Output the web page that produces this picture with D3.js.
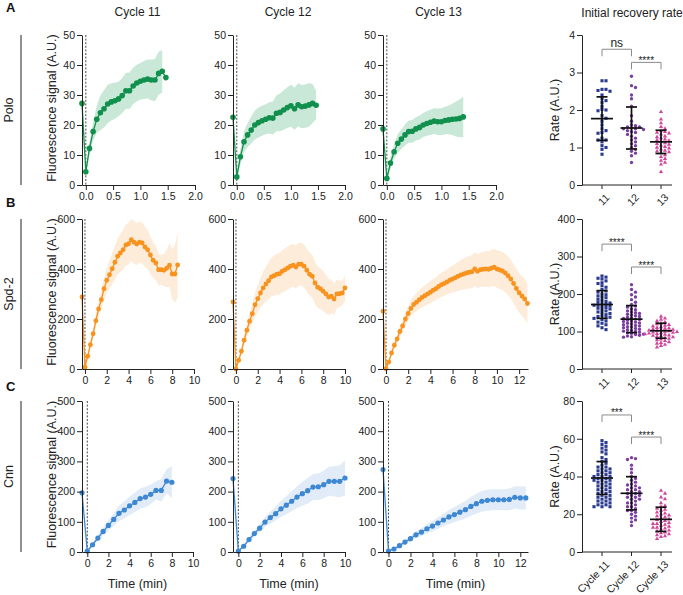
<!DOCTYPE html>
<html><head><meta charset="utf-8">
<script src="https://cdn.jsdelivr.net/npm/d3@7"></script>
<style>
body{margin:0;background:#fff;}
svg{font-family:"Liberation Sans",Arial,Helvetica,sans-serif;display:block;}
</style></head><body>
<svg id="c" width="683" height="595"></svg>
<script>
// ---------------- DATA ----------------
const cycles = ["Cycle 11", "Cycle 12", "Cycle 13"];
const proteins = ["Polo", "Spd-2", "Cnn"];
const rowLetters = ["A", "B", "C"];

// sampling intervals (min)
const poloInterval = 4 / 60, spd2Interval = 0.25, cnnInterval = 0.5;

// Polo (A)
const polo11Pre = 27.2;
const polo11 = [4.4, 12.2, 17.8, 21.9, 24.1, 25.4, 27.0, 27.7, 28.1, 28.7, 29.8, 31.4, 31.4, 33.0, 34.0, 34.6, 35.0, 35.3, 35.0, 35.0, 37.2, 37.9, 35.8];
const polo11Sd = [1, 2, 3, 4.5, 5.8, 6.2, 6.4, 6.2, 6, 5.8, 5.8, 6, 6.1, 6.1, 6.1, 6.1, 6.3, 6.5, 6.8, 7, 7.2, 7, null];
const polo12Pre = 22.6;
const polo12 = [2.7, 9.4, 14.4, 16.7, 18.3, 20.0, 20.8, 21.4, 21.9, 22.4, 22.3, 23.9, 24.2, 25.0, 25.8, 26.4, 25.4, 26.7, 26.1, 26.3, 26.7, 27.2, 26.6];
const polo12Sd = [1, 2.5, 3.5, 4, 4.5, 4.8, 5, 5, 5, 5.2, 5.5, 6, 6.3, 6.6, 6.8, 7, 7, 7.2, 7.2, 7.2, 7.3, 6.5, 4.7];
const polo13Pre = 18.7;
const polo13 = [2.2, 7.3, 11.1, 13.9, 15.3, 16.7, 17.8, 17.9, 18.7, 19.2, 20.0, 20.5, 20.9, 21.3, 21.1, 21.1, 21.5, 21.7, 21.9, 22.0, 22.2, 22.7];
const polo13Sd = [1, 2, 2.5, 3, 3.3, 3.5, 3.7, 3.8, 3.9, 4, 4, 4.1, 4.2, 4.3, 4.4, 4.5, 4.6, 4.8, 5.2, 5.8, 6.3, 6.8];

// Spd-2 (B)
const spd11Pre = 288;
const spd11 = [7, 51, 97, 141, 193, 240, 277, 321, 355, 377, 401, 427, 451, 464, 477, 496, 501, 517, 507, 500, 507, 504, 488, 477, 456, 435, 424, 397, 397, 395, 403, 415, 380, 380, 416];
const spd11Sd = [3, 8, 14, 20, 26, 32, 38, 44, 50, 56, 62, 68, 72, 76, 80, 82, 84, 85, 85, 84, 83, 82, 80, 78, 74, 72, 68, 63, 60, 65, 75, 88, 100, 115, 130];
const spd12Pre = 268;
const spd12 = [0, 35, 71, 115, 155, 191, 221, 257, 281, 304, 324, 340, 353, 368, 373, 379, 381, 391, 397, 404, 411, 415, 408, 419, 419, 411, 395, 379, 371, 344, 327, 321, 311, 300, 288, 291, 280, 300, 301, 304, 324];
const spd12Sd = [3, 8, 14, 20, 27, 33, 40, 47, 54, 60, 66, 70, 74, 77, 80, 82, 84, 85, 86, 86, 86, 86, 86, 86, 86, 86, 86, 86, 85, 84, 83, 82, 80, 77, 72, 67, 62, 57, 52, 50, 50];
const spd13Pre = 231;
const spd13 = [1, 28, 64, 95, 120, 150, 172, 200, 222, 242, 258, 267, 277, 286, 293, 300, 307, 315, 321, 330, 337, 342, 348, 355, 360, 365, 371, 376, 380, 384, 387, 389, 400, 391, 397, 399, 400, 399, 403, 407, 400, 396, 392, 384, 373, 360, 342, 322, 305, 292, 280, 262];
const spd13Sd = [2, 6, 10, 14, 18, 21, 24, 27, 30, 32, 34, 36, 38, 40, 42, 43, 44, 45, 46, 47, 48, 49, 50, 52, 54, 56, 58, 60, 62, 64, 65, 66, 67, 68, 69, 70, 71, 72, 73, 74, 75, 76, 76, 77, 77, 78, 78, 79, 79, 80, 80, 80];

// Cnn (C)
const cnn11Pre = 196;
const cnn11 = [3, 24, 46, 68, 88, 108, 128, 139, 153, 164, 177, 182, 191, 204, 204, 235, 231];
const cnn11Sd = [2, 5, 9, 13, 17, 21, 25, 28, 30, 32, 33, 34, 32, 30, 38, 40, 53];
const cnn12Pre = 243;
const cnn12 = [3, 19, 41, 61, 79, 99, 114, 127, 143, 155, 168, 182, 193, 203, 215, 216, 223, 234, 234, 234, 245];
const cnn12Sd = [2, 4, 7, 10, 13, 16, 20, 23, 27, 30, 33, 36, 40, 42, 43, 44, 46, 48, 50, 53, 58];
const cnn13Pre = 273;
const cnn13 = [3, 10, 21, 33, 44, 57, 66, 77, 86, 96, 106, 116, 124, 132, 140, 151, 160, 168, 171, 173, 173, 173, 174, 181, 179, 179];
const cnn13Sd = [2, 3, 5, 7, 9, 11, 13, 15, 17, 19, 21, 23, 25, 27, 29, 31, 33, 34, 35, 35, 35, 35, 36, 37, 38, 38];

// Initial recovery rates (scatter)
const rateA11 = [2.78, 2.78, 2.55, 2.55, 2.52, 2.5, 2.4, 2.3, 2.25, 2.2, 2.1, 2.02, 2.0, 1.98, 1.85, 1.78, 1.7, 1.6, 1.5, 1.45, 1.4, 1.38, 1.25, 1.2, 1.2, 1.15, 1.05, 1.0, 0.95, 0.82];
const rateA12 = [2.9, 2.65, 2.6, 2.4, 2.3, 2.1, 1.85, 1.7, 1.6, 1.58, 1.55, 1.55, 1.52, 1.5, 1.5, 1.48, 1.45, 1.42, 1.4, 1.35, 1.3, 1.25, 1.2, 1.15, 1.1, 1.05, 1.0, 0.95, 0.9, 0.85, 0.78, 0.6];
const rateA13 = [1.95, 1.75, 1.65, 1.55, 1.5, 1.45, 1.42, 1.4, 1.38, 1.35, 1.3, 1.28, 1.25, 1.22, 1.2, 1.18, 1.15, 1.12, 1.1, 1.08, 1.05, 1.02, 1.0, 0.98, 0.95, 0.92, 0.9, 0.88, 0.85, 0.8, 0.75, 0.7, 0.65, 0.6, 0.55, 0.35];
const rateB11 = [248, 245, 242, 240, 235, 230, 228, 222, 218, 212, 208, 205, 200, 198, 195, 192, 190, 186, 183, 180, 178, 176, 174, 172, 170, 170, 168, 166, 164, 162, 160, 158, 155, 152, 150, 148, 145, 142, 140, 138, 137, 135, 132, 128, 125, 122, 118, 115, 110, 105];
const rateB12 = [225, 212, 205, 198, 192, 185, 178, 172, 168, 165, 160, 158, 155, 152, 150, 148, 146, 144, 142, 140, 138, 136, 135, 133, 132, 130, 128, 127, 125, 123, 122, 120, 118, 116, 115, 113, 112, 110, 108, 106, 105, 103, 101, 100, 98, 97, 95, 93, 92, 90, 88, 86, 85];
const rateB13 = [140, 135, 132, 128, 125, 122, 120, 118, 116, 114, 112, 110, 109, 108, 106, 105, 104, 103, 102, 101, 100, 99, 98, 97, 96, 95, 94, 93, 92, 90, 89, 88, 86, 85, 83, 81, 79, 77, 75, 72, 70, 68, 65, 62, 58];
const rateC11 = [59, 58, 57, 56, 55, 54, 53, 52, 50, 49, 48, 47, 46, 45, 45, 44, 44, 43, 43, 42, 42, 41, 41, 40, 40, 40, 39, 39, 38, 38, 38, 37, 37, 36, 36, 35, 35, 34, 34, 33, 33, 32, 32, 31, 31, 30, 30, 29, 29, 28, 28, 27, 27, 26, 26, 25, 25, 24, 24, 24];
const rateC12 = [50, 49.5, 49, 46, 44, 42, 40, 39, 38, 37, 36, 35.5, 35, 34, 34, 33, 33, 32, 32, 31, 31, 30, 30, 29, 29, 28, 28, 27, 26, 26, 25, 24, 24, 23, 22, 22, 21, 20, 19, 18, 17, 16, 14];
const rateC13 = [32.5, 31, 29, 28, 26, 24.5, 24, 23, 22.5, 22, 21, 20.5, 20, 19.5, 19, 18.5, 18, 17.5, 17, 16.5, 16, 15.5, 15, 15, 14.5, 14, 13.5, 13, 13, 12.5, 12, 11.5, 11, 10.5, 10, 9.5, 9, 8.5, 8, 7];
const rateMeanA = [1.77, 1.52, 1.15], rateSdA = [0.58, 0.56, 0.31];
const rateMeanB = [172, 133, 102], rateSdB = [37, 36, 20];
const rateMeanC = [39.2, 31.1, 17.3], rateSdC = [8.7, 8.8, 6.4];
const rateGroupsShort = ["11", "12", "13"];

// significance brackets
const sigPairs = [[0, 1], [1, 2]];
const sigLabelsA = ["ns", "****"], sigLevelsA = [3.62, 3.27];
const sigLabelsB = ["****", "****"], sigLevelsB = [333, 272];
const sigLabelsC = ["***", "****"], sigLevelsC = [72.6, 60.9];

// axis ticks
const yTicksA = [0, 10, 20, 30, 40, 50], yTicksB = [0, 200, 400, 600], yTicksC = [0, 100, 200, 300, 400, 500];
const rateTicksA = [0, 1, 2, 3, 4], rateTicksB = [0, 100, 200, 300, 400], rateTicksC = [0, 20, 40, 60, 80];
const xTicksA = [0, 0.5, 1, 1.5, 2], xTicksB = [0, 2, 4, 6, 8, 10], xTicksB13 = [0, 2, 4, 6, 8, 10, 12];

// ---------------- LAYOUT / STYLE ----------------
const svg = d3.select("#c");
const AX = "#222";
const rowBox = [{top: 35, bottom: 185}, {top: 219, bottom: 369}, {top: 401, bottom: 552}];
const letterY = [12, 207, 391];
const chartX = [[82, 195], [233, 345], [383, 496]];
const rowStyles = [
  {color: "#10904c", band: "#c9e8d7", r: 2.8, yDomain: [0, 50], yTicks: yTicksA, interval: poloInterval, xStart: -0.07,
   xEnds: [2, 2, 2], xTicks: [xTicksA, xTicksA, xTicksA], xFmt: d3.format(".1f"), xr: [[82,195],[233,345],[383,496]]},
  {color: "#f7931e", band: "#fdecda", r: 2.4, yDomain: [0, 600], yTicks: yTicksB, interval: spd2Interval, xStart: -0.27,
   xEnds: [10, 10, 12.8], xTicks: [xTicksB, xTicksB, xTicksB13], xFmt: d3.format("d"), xr: [[82,194],[233,345],[383,528]]},
  {color: "#3d87d3", band: "#e1ecf8", r: 2.6, yDomain: [0, 500], yTicks: yTicksC, interval: cnnInterval, xStart: -0.5,
   xEnds: [10, 10, 12.7], xTicks: [xTicksB, xTicksB, xTicksB13], xFmt: d3.format("d"), xr: [[82,193],[233,345],[383,528]]}
];
const seriesData = [
  [[polo11Pre, polo11, polo11Sd], [polo12Pre, polo12, polo12Sd], [polo13Pre, polo13, polo13Sd]],
  [[spd11Pre, spd11, spd11Sd], [spd12Pre, spd12, spd12Sd], [spd13Pre, spd13, spd13Sd]],
  [[cnn11Pre, cnn11, cnn11Sd], [cnn12Pre, cnn12, cnn12Sd], [cnn13Pre, cnn13, cnn13Sd]]
];
const scatterRows = [
  {groups: [rateA11, rateA12, rateA13], mean: rateMeanA, sd: rateSdA, ticks: rateTicksA, dom: [0, 4], sigL: sigLabelsA, sigY: sigLevelsA, labels: rateGroupsShort},
  {groups: [rateB11, rateB12, rateB13], mean: rateMeanB, sd: rateSdB, ticks: rateTicksB, dom: [0, 400], sigL: sigLabelsB, sigY: sigLevelsB, labels: rateGroupsShort},
  {groups: [rateC11, rateC12, rateC13], mean: rateMeanC, sd: rateSdC, ticks: rateTicksC, dom: [0, 80], sigL: sigLabelsC, sigY: sigLevelsC, labels: cycles}
];
const groupColors = ["#2a3a8f", "#7a3e9e", "#d2469c"];

function styleAxis(g) {
  g.select(".domain").attr("stroke", AX).attr("stroke-width", 1);
  g.selectAll(".tick line").attr("stroke", AX).attr("stroke-width", 1);
  g.selectAll(".tick text").attr("fill", "#222").attr("font-size", 10.5);
}

// titles
cycles.forEach((c, i) => {
  svg.append("text").attr("x", (chartX[i][0] + chartX[i][1]) / 2 - 1).attr("y", 16)
    .attr("text-anchor", "middle").attr("font-size", 12).attr("fill", "#222").text(c);
});
svg.append("text").attr("x", 632).attr("y", 17).attr("text-anchor", "middle")
  .attr("font-size", 12).attr("fill", "#222").text("Initial recovery rate");

rowBox.forEach((rb, ri) => {
  const st = rowStyles[ri];
  svg.append("text").attr("x", 6).attr("y", letterY[ri]).attr("font-size", 13).attr("font-weight", "bold")
    .attr("fill", "#111").text(rowLetters[ri]);
  svg.append("line").attr("x1", 21).attr("x2", 21).attr("y1", rb.top).attr("y2", rb.bottom).attr("stroke", AX).attr("stroke-width", 1);
  svg.append("text").attr("transform", `translate(12.5,${(rb.top + rb.bottom) / 2}) rotate(-90)`)
    .attr("text-anchor", "middle").attr("font-size", 12.5).attr("fill", "#222").text(proteins[ri]);
  svg.append("text").attr("transform", `translate(56,${(rb.top + rb.bottom) / 2 - 2}) rotate(-90)`)
    .attr("text-anchor", "middle").attr("font-size", 12.5).attr("fill", "#222").text("Fluorescence signal (A.U.)");

  const y = d3.scaleLinear().domain(st.yDomain).range([rb.bottom, rb.top]);

  seriesData[ri].forEach((sd, ci) => {
    const [pre, vals, sds] = sd;
    const [x0, x1] = st.xr[ci];
    const x = d3.scaleLinear().domain([st.xStart, st.xEnds[ci]]).range([x0, x1]);
    const g = svg.append("g");
    const pts = vals.map((v, i) => ({t: i * st.interval, v, s: sds[i]}));
    g.append("path").datum(pts).attr("fill", st.band).attr("stroke", "none")
      .attr("d", d3.area().defined(d => d.s != null).x(d => x(d.t))
        .y0(d => y(Math.max(st.yDomain[0], d.v - d.s))).y1(d => y(Math.min(st.yDomain[1], d.v + d.s))));
    g.append("line").attr("x1", x(0)).attr("x2", x(0)).attr("y1", rb.top).attr("y2", rb.bottom)
      .attr("stroke", "#333").attr("stroke-width", 0.9).attr("stroke-dasharray", "2,1.6");
    const all = [{t: st.xStart, v: pre}].concat(pts);
    g.append("path").datum(all).attr("fill", "none").attr("stroke", st.color).attr("stroke-width", 1.3)
      .attr("d", d3.line().x(d => x(d.t)).y(d => y(d.v)));
    g.selectAll("circle.pt").data(all).join("circle").attr("class", "pt")
      .attr("cx", d => x(d.t)).attr("cy", d => y(d.v)).attr("r", st.r).attr("fill", st.color);
    const ya = g.append("g").attr("transform", `translate(${x0},0)`)
      .call(d3.axisLeft(y).tickValues(st.yTicks).tickFormat(d3.format("d")).tickSize(5).tickPadding(2).tickSizeOuter(0));
    styleAxis(ya);
    const xa = g.append("g").attr("transform", `translate(0,${rb.bottom})`)
      .call(d3.axisBottom(x).tickValues(st.xTicks[ci]).tickFormat(st.xFmt).tickSize(5).tickPadding(3).tickSizeOuter(0));
    styleAxis(xa);
    if (ri === 2) {
      g.append("text").attr("x", (x0 + x1) / 2).attr("y", 588).attr("text-anchor", "middle")
        .attr("font-size", 12.5).attr("fill", "#222").text("Time (min)");
    }
  });

  // ---------- scatter ----------
  const sc = scatterRows[ri];
  const sy = d3.scaleLinear().domain(sc.dom).range([rb.bottom, rb.top]);
  const sx = d3.scalePoint().domain([0, 1, 2]).range([602, 661]);
  const sg = svg.append("g");
  svg.append("text").attr("transform", `translate(559,${(rb.top + rb.bottom) / 2}) rotate(-90)`)
    .attr("text-anchor", "middle").attr("font-size", 12.5).attr("fill", "#222").text("Rate (A.U.)");

  sc.groups.forEach((vals, gi) => {
    const cx = sx(gi);
    const items = vals.map(v => ({v, y: sy(v)})).sort((a, b) => a.y - b.y);
    const placed = [];
    const dxMin = 4.0, dyMin = 3.0, step = 2.0;
    items.forEach(p => {
      for (let k = 0; k < 40; k++) {
        const off = k === 0 ? 0 : (k % 2 ? 1 : -1) * Math.ceil(k / 2) * step;
        const px = cx + off;
        if (!placed.some(q => Math.abs(q.x - px) < dxMin && Math.abs(q.y - p.y) < dyMin)) {
          p.x = px; placed.push(p); break;
        }
      }
    });
    const col = groupColors[gi];
    if (gi === 0) {
      sg.selectAll(null).data(placed).join("rect").attr("x", d => d.x - 1.55).attr("y", d => d.y - 1.55)
        .attr("width", 3.1).attr("height", 3.1).attr("fill", col);
    } else if (gi === 1) {
      sg.selectAll(null).data(placed).join("circle").attr("cx", d => d.x).attr("cy", d => d.y)
        .attr("r", 1.65).attr("fill", col);
    } else {
      const tri = d3.symbol(d3.symbolTriangle).size(7.5)();
      sg.selectAll(null).data(placed).join("path").attr("d", tri)
        .attr("transform", d => `translate(${d.x},${d.y})`).attr("fill", col);
    }
    const m = sc.mean[gi], s = sc.sd[gi];
    const eb = sg.append("g").attr("stroke", "#111").attr("stroke-width", 1.7);
    eb.append("line").attr("x1", cx).attr("x2", cx).attr("y1", sy(m - s)).attr("y2", sy(m + s));
    eb.append("line").attr("x1", cx - 11).attr("x2", cx + 11).attr("y1", sy(m)).attr("y2", sy(m));
    eb.append("line").attr("x1", cx - 5.5).attr("x2", cx + 5.5).attr("y1", sy(m + s)).attr("y2", sy(m + s));
    eb.append("line").attr("x1", cx - 5.5).attr("x2", cx + 5.5).attr("y1", sy(m - s)).attr("y2", sy(m - s));
  });

  sigPairs.forEach((pr, k) => {
    const yy = sy(sc.sigY[k]);
    const xa = sx(pr[0]), xb = sx(pr[1]);
    sg.append("path").attr("d", `M${xa},${yy + 7}V${yy}H${xb}V${yy + 7}`)
      .attr("fill", "none").attr("stroke", "#8a8a8a").attr("stroke-width", 1);
    const lab = sc.sigL[k];
    sg.append("text").attr("x", (xa + xb) / 2).attr("y", lab === "ns" ? yy - 2.5 : yy + 1.5)
      .attr("text-anchor", "middle").attr("font-size", lab === "ns" ? 12 : 10).attr("fill", "#222").text(lab);
  });

  const sya = sg.append("g").attr("transform", "translate(582,0)")
    .call(d3.axisLeft(sy).tickValues(sc.ticks).tickFormat(d3.format("d")).tickSize(5).tickPadding(2).tickSizeOuter(0));
  styleAxis(sya);
  sg.append("line").attr("x1", 582).attr("x2", 672).attr("y1", rb.bottom).attr("y2", rb.bottom).attr("stroke", AX);
  [0, 1, 2].forEach(gi => {
    sg.append("line").attr("x1", sx(gi)).attr("x2", sx(gi)).attr("y1", rb.bottom).attr("y2", rb.bottom + 4).attr("stroke", AX);
    sg.append("text").attr("transform", `translate(${sx(gi) + 3},${rb.bottom + 8}) rotate(-45)`)
      .attr("text-anchor", "end").attr("dy", "0.7em").attr("font-size", 10.5).attr("fill", "#222").text(sc.labels[gi]);
  });
});
</script>
</body></html>
